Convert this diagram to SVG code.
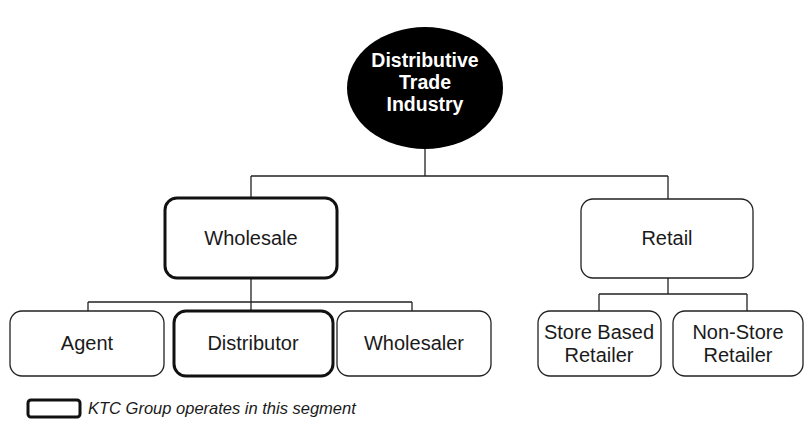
<svg xmlns="http://www.w3.org/2000/svg" width="811" height="424" viewBox="0 0 811 424">
<style>
.box{fill:#fff;stroke:#222;stroke-width:1.3}
.thick{fill:#fff;stroke:#111;stroke-width:3}
.lbl{font-family:"Liberation Sans",Arial,sans-serif;font-size:20px;fill:#1a1a1a;text-anchor:middle}
.top{font-family:"Liberation Sans",Arial,sans-serif;font-size:19.5px;font-weight:bold;fill:#fff;text-anchor:middle}
.conn{fill:none;stroke:#222;stroke-width:1.3}
.leg{font-family:"Liberation Sans",Arial,sans-serif;font-size:16.5px;font-style:italic;fill:#1a1a1a}
</style>
<rect width="811" height="424" fill="#fff"/>
<g id="connectors">
<path class="conn" d="M425 149V176M251 176H668M251 176V198M668 176V199"/>
<path class="conn" d="M251 278V302M88 302H412M88 302V311M251 302V311M412 302V311"/>
<path class="conn" d="M668 278V294M599 294H747M599 294V311M747 294V311"/>
</g>
<g id="industry">
<ellipse cx="425" cy="88" rx="78" ry="61" fill="#000"/>
<text class="top" x="425" y="67">Distributive</text>
<text class="top" x="425" y="89">Trade</text>
<text class="top" x="425" y="111">Industry</text>
</g>
<g id="wholesale">
<rect class="thick" x="165" y="198" width="172" height="80" rx="12"/>
<text class="lbl" x="251" y="245">Wholesale</text>
</g>
<g id="retail">
<rect class="box" x="581" y="199" width="172" height="79" rx="12"/>
<text class="lbl" x="667" y="245">Retail</text>
</g>
<g id="agent">
<rect class="box" x="10" y="311" width="154" height="65" rx="12"/>
<text class="lbl" x="87" y="350">Agent</text>
</g>
<g id="distributor">
<rect class="thick" x="174" y="311" width="159" height="65" rx="12"/>
<text class="lbl" x="253" y="350">Distributor</text>
</g>
<g id="wholesaler">
<rect class="box" x="337" y="311" width="154" height="65" rx="12"/>
<text class="lbl" x="414" y="350">Wholesaler</text>
</g>
<g id="store-based">
<rect class="box" x="538" y="311" width="123" height="65" rx="12"/>
<text class="lbl" x="599" y="339">Store Based</text>
<text class="lbl" x="599" y="362">Retailer</text>
</g>
<g id="non-store">
<rect class="box" x="673" y="311" width="130" height="65" rx="12"/>
<text class="lbl" x="738" y="339">Non-Store</text>
<text class="lbl" x="738" y="362">Retailer</text>
</g>
<g id="legend">
<rect class="thick" x="28" y="400" width="52" height="17" rx="3"/>
<text class="leg" x="88" y="414">KTC Group operates in this segment</text>
</g>
</svg>
